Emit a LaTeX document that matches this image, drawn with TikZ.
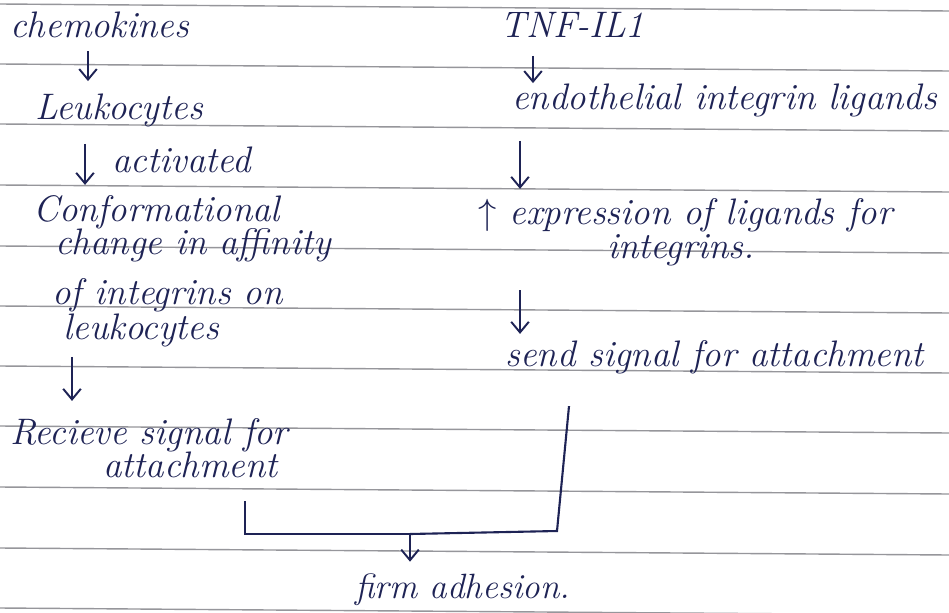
\documentclass[tikz,border=0pt]{standalone}
\usetikzlibrary{arrows.meta,calc}
\definecolor{ink}{RGB}{30,35,85}
\definecolor{rulecol}{RGB}{150,150,155}
\begin{document}
\begin{tikzpicture}[x=0.02cm,y=-0.02cm,
  txt/.style={text=ink,font=\fontsize{21}{23}\selectfont\itshape,inner sep=0pt,anchor=west},
  arr/.style={draw=ink,line width=1.1pt,-{Straight Barb[length=6pt,width=10pt]}},
  inkline/.style={draw=ink,line width=1.2pt},
  ruleline/.style={draw=rulecol,line width=0.8pt}]
\fill[white] (0,0) rectangle (949,612);
\useasboundingbox (0,0) rectangle (949,612);
\foreach \y in {4,64,124,185,246,306,366,426,487,548,608}
  \draw[ruleline] (0,\y) -- (949,\y+7);
% left column
\node[txt] (chem) at (10,25) {chemokines};
\node[txt] (leu) at (35,110) {Leukocytes};
\node[txt] (act) at (112,160) {activated};
\node[txt] (conf) at (33,212) {Conformational};
\node[txt] (conf2) at (55,245) {change in affinity};
\node[txt] (conf3) at (52,295) {of integrins on};
\node[txt] (conf4) at (63,330) {leukocytes};
\node[txt] (rec) at (10,435) {Recieve signal for};
\node[txt] (att) at (103,465) {attachment};
% right column
\node[txt] (tnf) at (500,25) {TNF-IL1};
\node[txt] (endo) at (512,100) {endothelial integrin ligands};
\node[txt] (expr) at (478,215) {$\uparrow$ expression of ligands for};
\node[txt] (expr2) at (607,250) {integrins.};
\node[txt] (send) at (505,357) {send signal for attachment};
% result
\node[txt,font=\fontsize{20}{22}\selectfont\itshape] (firm) at (355,590) {firm adhesion.};
% arrows
\draw[arr] ($(chem.south west)+(78,13)$) -- ($(leu.north west)+(53,-12)$);
\draw[arr] ($(leu.south west)+(50,17)$) -- ($(conf.north west)+(52,-10)$);
\draw[arr] ($(conf4.south west)+(9,10)$) -- ($(rec.north west)+(62,-17)$);
\draw[arr] ($(tnf.south west)+(33,18)$) -- ($(endo.north west)+(21,0)$);
\draw[arr] ($(endo.south west)+(8,24)$) -- ($(expr.north west)+(42,-9)$);
\draw[arr] ($(expr2.south west)+(-87,24)$) -- ($(send.north west)+(15,-6)$);
% joining bracket
\coordinate (lc) at ($(att.south west)+(142,23)$);
\coordinate (rc) at ($(send.south west)+(64,32)$);
\coordinate (j) at (410,534);
\coordinate (rcorner) at (557,531);
\draw[inkline] (lc) |- (j);
\draw[inkline] (rc) -- (rcorner) -- (j);
\draw[arr] (j) -- ($(firm.north west)+(55,-12)$);
\end{tikzpicture}
\end{document}
